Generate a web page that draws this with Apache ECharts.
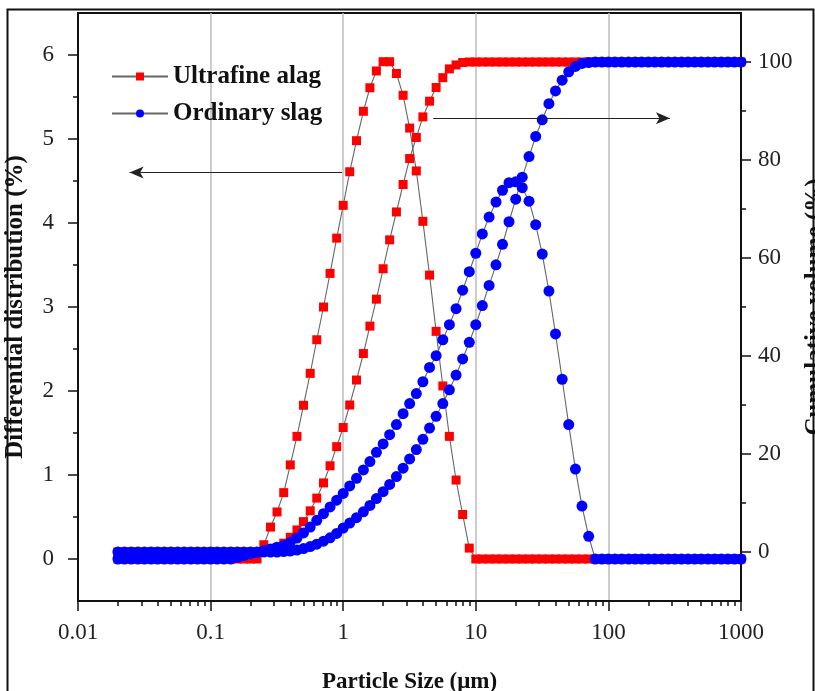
<!DOCTYPE html>
<html>
<head>
<meta charset="utf-8">
<script src="https://cdn.jsdelivr.net/npm/echarts@6/dist/echarts.min.js"></script>
<style>
html,body{margin:0;padding:0;background:#fff;}
#chart{width:815px;height:691px;}
</style>
</head>
<body>
<div id="chart"></div>
<script>
// Particle sizes (µm)
const sizes = [0.02,0.0224,0.0252,0.0283,0.0317,0.0356,0.0399,0.0448,0.0502,0.0564,0.0632,0.0710,0.0796,0.0893,0.1,0.112,0.126,0.142,0.159,0.178,
0.2,0.224,0.252,0.283,0.317,0.356,0.399,0.448,0.502,0.564,0.632,0.710,0.796,0.893,1.0,1.12,1.26,1.42,1.59,1.78,
2.0,2.24,2.52,2.83,3.17,3.56,3.99,4.48,5.02,5.64,6.32,7.10,7.96,8.93,10.0,11.2,12.6,14.2,15.9,17.8,
20.0,22.4,25.2,28.3,31.7,35.6,39.9,44.8,50.2,56.4,63.2,71.0,79.6,89.3,100,112,126,142,159,178,
200,224,252,283,317,356,399,448,502,564,632,710,796,893,1000];

// Ultrafine slag – differential distribution (%)
const ufDiff = [0,0,0,0,0,0,0,0,0,0,0,0,0,0,0,0,0,0,0,0,
0,0,0.17,0.38,0.56,0.79,1.12,1.46,1.83,2.21,2.61,3.00,3.40,3.82,4.21,4.61,4.98,5.33,5.61,5.81,
5.92,5.92,5.78,5.52,5.13,4.62,4.02,3.38,2.71,2.06,1.46,0.94,0.53,0.13,0,0,0,0,0,0,
0,0,0,0,0,0,0,0,0,0,0,0,0,0,0,0,0,0,0,0,
0,0,0,0,0,0,0,0,0,0,0,0,0,0,0];

// Ultrafine slag – cumulative volume (%)
const ufCum = [0,0,0,0,0,0,0,0,0,0,0,0,0,0,0,0,0,0,0,0,
0,0,0.1,0.4,0.9,1.8,3.0,4.5,6.2,8.4,11.0,14.1,17.6,21.5,25.4,30.0,35.1,40.5,46.1,51.6,
57.8,63.7,69.4,75.0,80.3,84.6,88.8,92.0,94.8,96.8,98.6,99.4,99.9,100,100,100,100,100,100,100,
100,100,100,100,100,100,100,100,100,100,100,100,100,100,100,100,100,100,100,100,
100,100,100,100,100,100,100,100,100,100,100,100,100,100,100];

// Ordinary slag – differential distribution (%)
const osDiff = [0,0,0,0,0,0,0,0,0,0,0,0,0,0,0,0,0,0,0.02,0.04,
0.06,0.08,0.10,0.12,0.14,0.16,0.20,0.25,0.31,0.38,0.46,0.54,0.62,0.70,0.78,0.87,0.96,1.06,1.16,1.27,
1.37,1.48,1.60,1.73,1.85,1.97,2.11,2.28,2.42,2.61,2.79,2.98,3.20,3.42,3.64,3.87,4.07,4.25,4.39,4.48,
4.49,4.42,4.26,3.98,3.63,3.19,2.68,2.14,1.60,1.07,0.63,0.27,0,0,0,0,0,0,0,0,
0,0,0,0,0,0,0,0,0,0,0,0,0,0,0];

// Ordinary slag – cumulative volume (%)
const osCum = [0,0,0,0,0,0,0,0,0,0,0,0,0,0,0,0,0,0,0,0,
0,0,0,0,0,0.1,0.2,0.4,0.7,1.1,1.6,2.2,2.9,3.8,4.9,5.9,7.0,8.2,9.5,10.9,
12.3,13.8,15.4,17.1,19.0,20.9,23.0,25.3,27.7,30.3,33.1,36.1,39.4,42.8,46.4,50.3,54.4,58.6,62.8,67.4,
72.0,76.5,80.7,84.8,88.2,91.5,94.1,96.3,98.0,99.1,99.7,99.9,100,100,100,100,100,100,100,100,
100,100,100,100,100,100,100,100,100,100,100,100,100,100,100];

// Tick values
const xMinorTicks = [0.02,0.03,0.04,0.05,0.06,0.07,0.08,0.09,
0.2,0.3,0.4,0.5,0.6,0.7,0.8,0.9,
2,3,4,5,6,7,8,9,
20,30,40,50,60,70,80,90,
200,300,400,500,600,700,800,900];
const yLeftTicks = [0,1,2,3,4,5,6];
const yLeftMinor = [0.5,1.5,2.5,3.5,4.5,5.5];
const yRightTicks = [0,20,40,60,80,100];
const yRightMinor = [10,30,50,70,90];

const names = ['Ultrafine alag','Ordinary slag'];
const RED = '#ff0000', BLUE = '#0000ff';
const FONT = '"Liberation Serif","Times New Roman",serif';

const pair = arr => sizes.map((x,i)=>[x, arr[i]]);

const chart = echarts.init(document.getElementById('chart'), null, {renderer:'canvas'});

const lineStyle = {color:'#666', width:1.1};
const hiddenLine = {show:false, onZero:false};

const option = {
  animation:false,
  backgroundColor:'#fff',
  graphic:[{
    type:'rect', left:5, top:7, shape:{width:806, height:700},
    style:{fill:'none', stroke:'#111', lineWidth:2}, silent:true, z:100
  }],
  grid:{left:78, right:74, top:13, bottom:90, containLabel:false, outerBoundsMode:'none',
    show:true, borderColor:'#111', borderWidth:2, backgroundColor:'transparent'},
  legend:{
    data:names, orient:'vertical', left:106, top:58, itemWidth:56, itemHeight:10, itemGap:10,
    textStyle:{fontFamily:FONT, fontWeight:'bold', fontSize:25, color:'#111', lineHeight:27}
  },
  xAxis:[{
    type:'log', logBase:10, min:0.01, max:1000, position:'bottom',
    name:'Particle Size (μm)', nameLocation:'middle', nameGap:70,
    nameTextStyle:{fontFamily:FONT, fontWeight:'bold', fontSize:23, color:'#111'},
    axisLine:{show:true, onZero:false, lineStyle:{color:'#111', width:2}},
    axisTick:{show:true, inside:false, length:10, lineStyle:{color:'#111', width:1.5}},
    axisLabel:{fontFamily:FONT, fontSize:23, color:'#222', margin:20,
      formatter:v=>String(+v.toPrecision(6))},
    splitLine:{show:true, lineStyle:{color:'#bdbdbd', width:1.5}},
    minorTick:{show:false}
  },{
    type:'value', min:-2, max:3, position:'bottom',
    axisLine:hiddenLine, axisLabel:{show:false}, splitLine:{show:false},
    axisTick:{show:true, inside:false, length:5, customValues:xMinorTicks.map(Math.log10), lineStyle:{color:'#111', width:1.5}}
  }],
  yAxis:[{
    type:'value', min:-0.5, max:6.5, position:'left',
    name:'Differential distribution (%)', nameLocation:'middle', nameRotate:90, nameGap:50,
    nameTextStyle:{fontFamily:FONT, fontWeight:'bold', fontSize:25, color:'#111'},
    axisLine:{show:true, onZero:false, lineStyle:{color:'#111', width:2}},
    axisTick:{show:true, length:10, customValues:yLeftTicks, lineStyle:{color:'#111', width:1.5}},
    axisLabel:{fontFamily:FONT, fontSize:23, color:'#222', margin:24, customValues:yLeftTicks},
    splitLine:{show:false}
  },{
    type:'value', min:-10, max:110, position:'right',
    name:'Cumulative volume (%)', nameLocation:'middle', nameRotate:90, nameGap:62,
    nameTextStyle:{fontFamily:FONT, fontWeight:'bold', fontSize:25, color:'#111'},
    axisLine:{show:true, onZero:false, lineStyle:{color:'#111', width:2}},
    axisTick:{show:true, length:10, customValues:yRightTicks, lineStyle:{color:'#111', width:1.5}},
    axisLabel:{fontFamily:FONT, fontSize:23, color:'#222', margin:17, customValues:yRightTicks},
    splitLine:{show:false}
  },{
    type:'value', min:-0.5, max:6.5, position:'left',
    axisLine:hiddenLine, axisLabel:{show:false}, splitLine:{show:false},
    axisTick:{show:true, length:5, customValues:yLeftMinor, lineStyle:{color:'#111', width:1.5}}
  },{
    type:'value', min:-10, max:110, position:'right',
    axisLine:hiddenLine, axisLabel:{show:false}, splitLine:{show:false},
    axisTick:{show:true, length:5, customValues:yRightMinor, lineStyle:{color:'#111', width:1.5}}
  }],
  series:[{
    name:names[0], type:'line', xAxisIndex:0, yAxisIndex:1, data:pair(ufCum),
    symbol:'rect', symbolSize:9, showAllSymbol:true, itemStyle:{color:RED, borderWidth:0},
    lineStyle:lineStyle, z:2,
    markLine:{silent:true, symbol:['none','arrow'], symbolSize:[9,14], label:{show:false},
      lineStyle:{color:'#222', width:1.2, type:'solid'},
      data:[[{coord:[4.78,88.5]},{coord:[291,88.5]}]]}
  },{
    name:names[0], type:'line', xAxisIndex:0, yAxisIndex:0, data:pair(ufDiff),
    symbol:'rect', symbolSize:9, showAllSymbol:true, itemStyle:{color:RED, borderWidth:0},
    lineStyle:lineStyle, z:2,
    markLine:{silent:true, symbol:['none','arrow'], symbolSize:[9,14], label:{show:false},
      lineStyle:{color:'#222', width:1.2, type:'solid'},
      data:[[{coord:[0.98,4.6]},{coord:[0.0245,4.6]}]]}
  },{
    name:names[1], type:'line', xAxisIndex:0, yAxisIndex:1, data:pair(osCum),
    symbol:'circle', symbolSize:11, showAllSymbol:true, itemStyle:{color:BLUE, borderWidth:0},
    lineStyle:lineStyle, z:3
  },{
    name:names[1], type:'line', xAxisIndex:0, yAxisIndex:0, data:pair(osDiff),
    symbol:'circle', symbolSize:11, showAllSymbol:true, itemStyle:{color:BLUE, borderWidth:0},
    lineStyle:lineStyle, z:3
  }]
};
chart.setOption(option);
</script>
</body>
</html>
